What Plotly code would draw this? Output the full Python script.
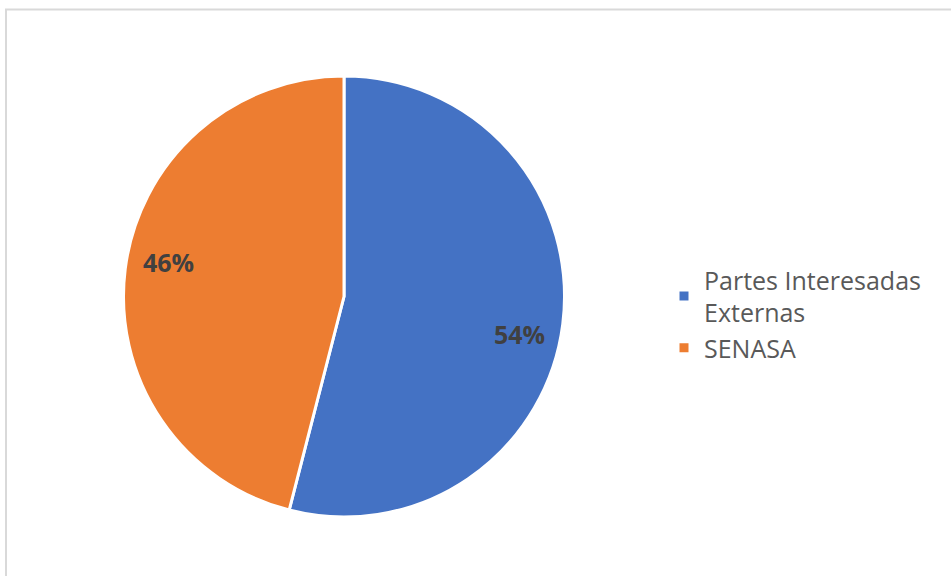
import math
import plotly.graph_objects as go

W, H = 951, 576

categorias = ['Partes Interesadas<br>Externas', 'SENASA']
valores = [54, 46]
colores = ['#4472C4', '#ED7D31']

# posición del pastel (px en la imagen)
CX, CY, R = 344, 296.5, 220.5

fig = go.Figure(go.Pie(
    labels=categorias,
    values=valores,
    sort=False,
    direction='clockwise',
    rotation=0,
    marker=dict(colors=colores, line=dict(color='#ffffff', width=3)),
    textinfo='none',
    domain=dict(x=[(CX - R) / W, (CX + R) / W],
                y=[(H - CY - R) / H, (H - CY + R) / H]),
    hoverinfo='label+percent',
))

# etiquetas de porcentaje sobre la bisectriz de cada sector
total = sum(valores)
acum = 0
for v in valores:
    ang = 2 * math.pi * (acum + v / 2) / total
    acum += v
    px_ = CX + 0.80 * R * math.sin(ang)
    py_ = CY - 0.80 * R * math.cos(ang) + (-12 if math.sin(ang) < 0 else 15)
    fig.add_annotation(
        x=px_ / W, y=1 - py_ / H, xref='paper', yref='paper',
        xanchor='center', yanchor='middle',
        text=f'<b>{round(100 * v / total)}%</b>', showarrow=False,
        font=dict(family='Open Sans, sans-serif', size=25, color='#404040'),
    )

fig.update_layout(
    width=W, height=H,
    margin=dict(l=0, r=0, t=0, b=0),
    paper_bgcolor='#ffffff',
    plot_bgcolor='#ffffff',
    font=dict(family='Open Sans, sans-serif', color='#595959'),
    legend=dict(
        x=664 / W, y=1 - 314 / H, xanchor='left', yanchor='middle',
        font=dict(size=25, color='#595959'),
        itemwidth=30,
        tracegroupgap=0,
    ),
    shapes=[dict(
        type='rect', xref='paper', yref='paper',
        x0=6 / W, x1=1.05, y0=-0.05, y1=(H - 9.5) / H,
        line=dict(color='#d9d9d9', width=2),
        fillcolor='rgba(0,0,0,0)', layer='below',
    )],
)

fig.write_html('out.html', config={'displayModeBar': False},
               post_script="document.body.style.margin='0';")
